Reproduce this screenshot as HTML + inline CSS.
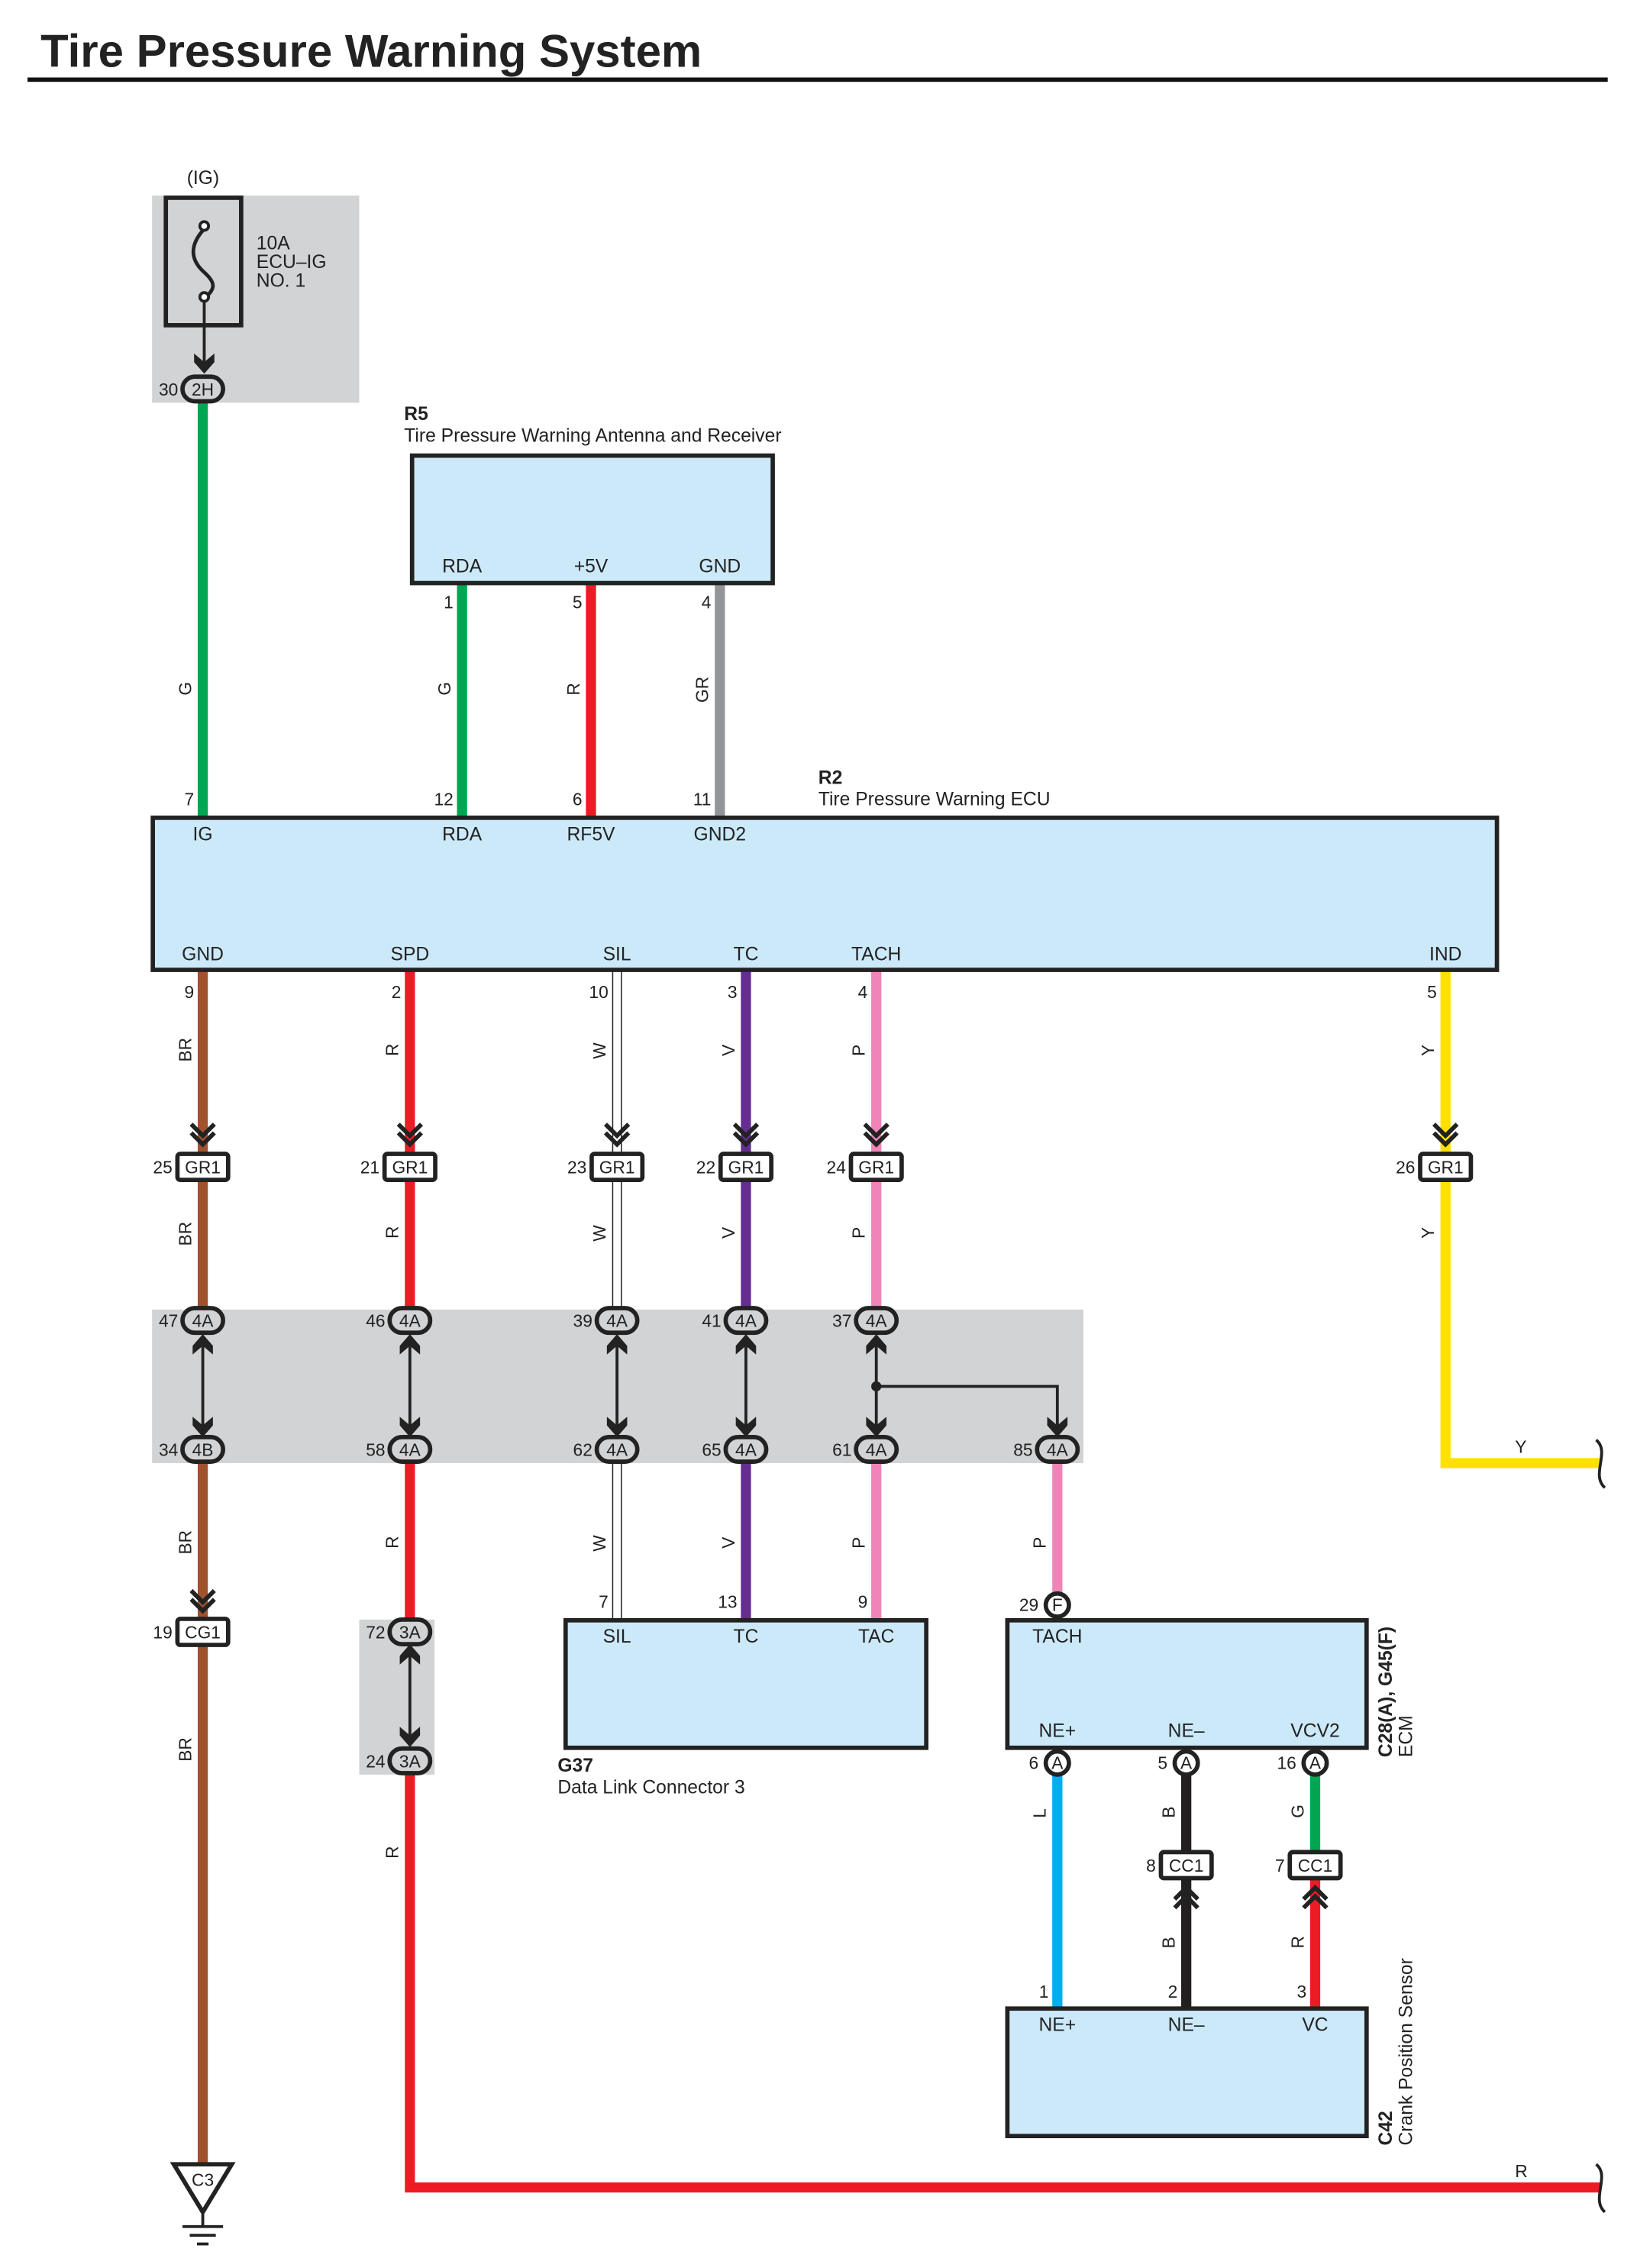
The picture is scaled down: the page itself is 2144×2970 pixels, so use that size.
<!DOCTYPE html>
<html><head><meta charset="utf-8"><style>
html,body{margin:0;padding:0;background:#fff}
svg{display:block}
text{font-family:"Liberation Sans",Arial,sans-serif;fill:#222}
.t{font-size:13px}
.n{font-size:12px}
.wl{font-size:12px}
.b{font-weight:bold}
</style></head><body>
<svg width="2144" height="2970" viewBox="0 0 1130.2 1565.6" preserveAspectRatio="none" xmlns="http://www.w3.org/2000/svg">
<defs>
<g id="dch"><polyline points="-8,-20 0,-12 8,-20" fill="none" stroke="#222" stroke-width="3"/><polyline points="-8,-14 0,-6 8,-14" fill="none" stroke="#222" stroke-width="3"/></g>
<g id="uch"><polyline points="-8,20 0,12 8,20" fill="none" stroke="#222" stroke-width="3"/><polyline points="-8,14 0,6 8,14" fill="none" stroke="#222" stroke-width="3"/></g>
<polygon id="ad" points="0,0 -7,-8 -7,-14 0,-8 7,-14 7,-8" fill="#222"/>
<polygon id="au" points="0,0 -7,8 -7,14 0,8 7,14 7,8" fill="#222"/>
</defs>
<rect width="1130.2" height="1565.6" fill="#fff"/>
<text x="28" y="46" font-size="31.6" style="font-weight:bold">Tire Pressure Warning System</text>
<rect x="19" y="53.5" width="1091" height="3" fill="#111"/>

<rect x="105" y="135" width="143" height="143" fill="#d1d3d4"/>
<rect x="105" y="904" width="643" height="106" fill="#d1d3d4"/>
<rect x="248" y="1118" width="52" height="107" fill="#d1d3d4"/>

<text x="129" y="127" class="t">(IG)</text>
<rect x="114.5" y="136.5" width="52" height="88" fill="none" stroke="#222" stroke-width="3"/>
<path d="M141,158 C130,170 132,180 141,188 C150,196 148,200 141,206" fill="none" stroke="#222" stroke-width="2.5"/>
<circle cx="141" cy="156" r="3" fill="#fff" stroke="#222" stroke-width="2"/>
<circle cx="141" cy="205" r="3" fill="#fff" stroke="#222" stroke-width="2"/>
<line x1="141" y1="208" x2="141" y2="255" stroke="#222" stroke-width="2"/>
<use href="#ad" x="141" y="258"/>
<text x="177" y="172" class="t">10A</text><text x="177" y="185" class="t">ECU–IG</text><text x="177" y="198" class="t">NO. 1</text>

<g stroke-width="7" fill="none">
<line x1="140" y1="278" x2="140" y2="564" stroke="#00a651"/>
<line x1="319" y1="403" x2="319" y2="564" stroke="#00a651"/>
<line x1="408" y1="403" x2="408" y2="564" stroke="#ed1c24"/>
<line x1="497" y1="403" x2="497" y2="564" stroke="#939598"/>
<line x1="140" y1="670" x2="140" y2="904" stroke="#a0522d"/>
<line x1="140" y1="1010" x2="140" y2="1493" stroke="#a0522d"/>
<line x1="283" y1="670" x2="283" y2="904" stroke="#ed1c24"/>
<polyline points="283,1010 283,1118" stroke="#ed1c24"/>
<polyline points="283,1225 283,1510 1105,1510" stroke="#ed1c24"/>
<line x1="515" y1="670" x2="515" y2="904" stroke="#662d91"/>
<line x1="515" y1="1010" x2="515" y2="1118" stroke="#662d91"/>
<line x1="605" y1="670" x2="605" y2="904" stroke="#f084b8"/>
<line x1="605" y1="1010" x2="605" y2="1118" stroke="#f084b8"/>
<line x1="730" y1="1010" x2="730" y2="1100" stroke="#f084b8"/>
<polyline points="998,670 998,1010 1105,1010" stroke="#ffe000"/>
<line x1="730" y1="1225" x2="730" y2="1386" stroke="#00aeef"/>
<line x1="819" y1="1225" x2="819" y2="1386" stroke="#231f20"/>
<line x1="908" y1="1225" x2="908" y2="1287" stroke="#00a651"/>
<line x1="908" y1="1287" x2="908" y2="1386" stroke="#ed1c24"/>
</g>
<g fill="#fff" stroke="#222" stroke-width="0.8">
<rect x="423" y="670" width="6" height="234"/>
<rect x="423" y="1010" width="6" height="108"/>
</g>
<path d="M1102,994 C1112,1002 1098,1018 1108,1027" fill="none" stroke="#222" stroke-width="2"/>
<path d="M1102,1494 C1112,1502 1098,1518 1108,1527" fill="none" stroke="#222" stroke-width="2"/>
<text x="1046" y="1003" class="n">Y</text>
<text x="1046" y="1503" class="n">R</text>

<text x="279" y="290" class="t" style="font-weight:bold">R5</text>
<text x="279" y="305" class="t">Tire Pressure Warning Antenna and Receiver</text>
<rect x="284.5" y="314.5" width="249" height="88" fill="#cce9f9" stroke="#222" stroke-width="3"/>
<text x="319" y="395" class="t" text-anchor="middle">RDA</text>
<text x="408" y="395" class="t" text-anchor="middle">+5V</text>
<text x="497" y="395" class="t" text-anchor="middle">GND</text>
<text x="313" y="420" class="n" text-anchor="end">1</text>
<text x="402" y="420" class="n" text-anchor="end">5</text>
<text x="491" y="420" class="n" text-anchor="end">4</text>

<text x="565" y="541" class="t" style="font-weight:bold">R2</text>
<text x="565" y="556" class="t">Tire Pressure Warning ECU</text>
<rect x="105.5" y="564.5" width="928" height="105" fill="#cce9f9" stroke="#222" stroke-width="3"/>
<g class="t" text-anchor="middle">
<text x="140" y="580">IG</text><text x="319" y="580">RDA</text><text x="408" y="580">RF5V</text><text x="497" y="580">GND2</text>
<text x="140" y="663">GND</text><text x="283" y="663">SPD</text><text x="426" y="663">SIL</text><text x="515" y="663">TC</text><text x="605" y="663">TACH</text><text x="998" y="663">IND</text>
</g>
<g class="n" text-anchor="end">
<text x="134" y="556">7</text><text x="313" y="556">12</text><text x="402" y="556">6</text><text x="491" y="556">11</text>
<text x="134" y="689">9</text><text x="277" y="689">2</text><text x="420" y="689">10</text><text x="509" y="689">3</text><text x="599" y="689">4</text><text x="992" y="689">5</text>
</g>

<g class="wl">
<text transform="translate(132,480) rotate(-90)">G</text>
<text transform="translate(311,480) rotate(-90)">G</text>
<text transform="translate(400,480) rotate(-90)">R</text>
<text transform="translate(489,485) rotate(-90)">GR</text>
<text transform="translate(132,733) rotate(-90)">BR</text>
<text transform="translate(275,729) rotate(-90)">R</text>
<text transform="translate(418,731) rotate(-90)">W</text>
<text transform="translate(507,729) rotate(-90)">V</text>
<text transform="translate(597,729) rotate(-90)">P</text>
<text transform="translate(990,729) rotate(-90)">Y</text>
<text transform="translate(132,860) rotate(-90)">BR</text>
<text transform="translate(275,855) rotate(-90)">R</text>
<text transform="translate(418,857) rotate(-90)">W</text>
<text transform="translate(507,855) rotate(-90)">V</text>
<text transform="translate(597,855) rotate(-90)">P</text>
<text transform="translate(990,855) rotate(-90)">Y</text>
<text transform="translate(132,1073) rotate(-90)">BR</text>
<text transform="translate(275,1069) rotate(-90)">R</text>
<text transform="translate(418,1071) rotate(-90)">W</text>
<text transform="translate(507,1069) rotate(-90)">V</text>
<text transform="translate(597,1069) rotate(-90)">P</text>
<text transform="translate(722,1069) rotate(-90)">P</text>
<text transform="translate(132,1216) rotate(-90)">BR</text>
<text transform="translate(275,1283) rotate(-90)">R</text>
<text transform="translate(722,1255) rotate(-90)">L</text>
<text transform="translate(811,1255) rotate(-90)">B</text>
<text transform="translate(900,1255) rotate(-90)">G</text>
<text transform="translate(811,1345) rotate(-90)">B</text>
<text transform="translate(900,1345) rotate(-90)">R</text>
</g>

<g>
<use href="#dch" x="140" y="796"/><use href="#dch" x="283" y="796"/><use href="#dch" x="426" y="796"/><use href="#dch" x="515" y="796"/><use href="#dch" x="605" y="796"/><use href="#dch" x="998" y="796"/>
<use href="#dch" x="140" y="1118"/>
</g>
<g fill="#fff" stroke="#222" stroke-width="3">
<rect x="122.5" y="796.5" width="35" height="18" rx="2"/>
<rect x="265.5" y="796.5" width="35" height="18" rx="2"/>
<rect x="408.5" y="796.5" width="35" height="18" rx="2"/>
<rect x="497.5" y="796.5" width="35" height="18" rx="2"/>
<rect x="587.5" y="796.5" width="35" height="18" rx="2"/>
<rect x="980.5" y="796.5" width="35" height="18" rx="2"/>
<rect x="122.5" y="1117.5" width="35" height="18" rx="2"/>
<rect x="801.5" y="1278.5" width="35" height="18" rx="2"/>
<rect x="890.5" y="1278.5" width="35" height="18" rx="2"/>
</g>
<use href="#uch" x="819" y="1297"/><use href="#uch" x="908" y="1297"/>
<g class="n" text-anchor="middle">
<text x="140" y="810">GR1</text><text x="283" y="810">GR1</text><text x="426" y="810">GR1</text><text x="515" y="810">GR1</text><text x="605" y="810">GR1</text><text x="998" y="810">GR1</text>
<text x="140" y="1131">CG1</text><text x="819" y="1292">CC1</text><text x="908" y="1292">CC1</text>
</g>
<g class="n" text-anchor="end">
<text x="119" y="810">25</text><text x="262" y="810">21</text><text x="405" y="810">23</text><text x="494" y="810">22</text><text x="584" y="810">24</text><text x="977" y="810">26</text>
<text x="119" y="1131">19</text><text x="798" y="1292">8</text><text x="887" y="1292">7</text>
</g>

<g stroke="#222" stroke-width="2">
<line x1="140" y1="922" x2="140" y2="990"/><line x1="283" y1="922" x2="283" y2="990"/><line x1="426" y1="922" x2="426" y2="990"/><line x1="515" y1="922" x2="515" y2="990"/><line x1="605" y1="922" x2="605" y2="990"/>
<polyline points="605,957 730,957 730,990" fill="none"/>
<line x1="283" y1="1135" x2="283" y2="1205"/>
</g>
<circle cx="605" cy="957" r="3.5" fill="#222"/>
<g>
<use href="#au" x="140" y="921"/><use href="#au" x="283" y="921"/><use href="#au" x="426" y="921"/><use href="#au" x="515" y="921"/><use href="#au" x="605" y="921"/>
<use href="#ad" x="140" y="992"/><use href="#ad" x="283" y="992"/><use href="#ad" x="426" y="992"/><use href="#ad" x="515" y="992"/><use href="#ad" x="605" y="992"/><use href="#ad" x="730" y="992"/>
<use href="#au" x="283" y="1135"/><use href="#ad" x="283" y="1206"/>
</g>
<g fill="#d1d3d4" stroke="#222" stroke-width="3">
<rect x="126" y="260" width="28" height="17" rx="8.5"/>
<rect x="126" y="903" width="28" height="17" rx="8.5"/><rect x="269" y="903" width="28" height="17" rx="8.5"/><rect x="412" y="903" width="28" height="17" rx="8.5"/><rect x="501" y="903" width="28" height="17" rx="8.5"/><rect x="591" y="903" width="28" height="17" rx="8.5"/>
<rect x="126" y="992" width="28" height="17" rx="8.5"/><rect x="269" y="992" width="28" height="17" rx="8.5"/><rect x="412" y="992" width="28" height="17" rx="8.5"/><rect x="501" y="992" width="28" height="17" rx="8.5"/><rect x="591" y="992" width="28" height="17" rx="8.5"/><rect x="716" y="992" width="28" height="17" rx="8.5"/>
<rect x="269" y="1118" width="28" height="17" rx="8.5"/><rect x="269" y="1207" width="28" height="17" rx="8.5"/>
</g>
<g class="n" text-anchor="middle">
<text x="140" y="273">2H</text>
<text x="140" y="916">4A</text><text x="283" y="916">4A</text><text x="426" y="916">4A</text><text x="515" y="916">4A</text><text x="605" y="916">4A</text>
<text x="140" y="1005">4B</text><text x="283" y="1005">4A</text><text x="426" y="1005">4A</text><text x="515" y="1005">4A</text><text x="605" y="1005">4A</text><text x="730" y="1005">4A</text>
<text x="283" y="1131">3A</text><text x="283" y="1220">3A</text>
</g>
<g class="n" text-anchor="end">
<text x="123" y="273">30</text>
<text x="123" y="916">47</text><text x="266" y="916">46</text><text x="409" y="916">39</text><text x="498" y="916">41</text><text x="588" y="916">37</text>
<text x="123" y="1005">34</text><text x="266" y="1005">58</text><text x="409" y="1005">62</text><text x="498" y="1005">65</text><text x="588" y="1005">61</text><text x="713" y="1005">85</text>
<text x="266" y="1131">72</text><text x="266" y="1220">24</text>
</g>

<rect x="390.5" y="1118.5" width="249" height="88" fill="#cce9f9" stroke="#222" stroke-width="3"/>
<g class="t" text-anchor="middle"><text x="426" y="1134">SIL</text><text x="515" y="1134">TC</text><text x="605" y="1134">TAC</text></g>
<g class="n" text-anchor="end"><text x="420" y="1110">7</text><text x="509" y="1110">13</text><text x="599" y="1110">9</text></g>
<text x="385" y="1223" class="t" style="font-weight:bold">G37</text>
<text x="385" y="1238" class="t">Data Link Connector 3</text>

<rect x="695.5" y="1118.5" width="248" height="88" fill="#cce9f9" stroke="#222" stroke-width="3"/>
<circle cx="730" cy="1108" r="8" fill="#fff" stroke="#222" stroke-width="3"/>
<text x="730" y="1112" class="n" text-anchor="middle">F</text>
<text x="717" y="1112" class="n" text-anchor="end">29</text>
<g class="t" text-anchor="middle"><text x="730" y="1134">TACH</text><text x="730" y="1199">NE+</text><text x="819" y="1199">NE–</text><text x="908" y="1199">VCV2</text></g>
<g fill="#fff" stroke="#222" stroke-width="3"><circle cx="730" cy="1217" r="8"/><circle cx="819" cy="1217" r="8"/><circle cx="908" cy="1217" r="8"/></g>
<g class="n" text-anchor="middle"><text x="730" y="1221">A</text><text x="819" y="1221">A</text><text x="908" y="1221">A</text></g>
<g class="n" text-anchor="end"><text x="717" y="1221">6</text><text x="806" y="1221">5</text><text x="895" y="1221">16</text></g>
<text transform="translate(961,1213) rotate(-90)" class="t" style="font-weight:bold">C28(A), G45(F)</text>
<text transform="translate(975,1213) rotate(-90)" class="t">ECM</text>

<rect x="695.5" y="1386.5" width="248" height="88" fill="#cce9f9" stroke="#222" stroke-width="3"/>
<g class="t" text-anchor="middle"><text x="730" y="1402">NE+</text><text x="819" y="1402">NE–</text><text x="908" y="1402">VC</text></g>
<g class="n" text-anchor="end"><text x="724" y="1379">1</text><text x="813" y="1379">2</text><text x="902" y="1379">3</text></g>
<text transform="translate(961,1481) rotate(-90)" class="t" style="font-weight:bold">C42</text>
<text transform="translate(975,1481) rotate(-90)" class="t">Crank Position Sensor</text>

<polygon points="120,1494 160,1494 140,1527" fill="#fff" stroke="#222" stroke-width="3"/>
<text x="140" y="1509" class="n" text-anchor="middle">C3</text>
<line x1="140" y1="1527" x2="140" y2="1537" stroke="#222" stroke-width="2"/>
<line x1="126" y1="1537" x2="154" y2="1537" stroke="#222" stroke-width="2"/>
<line x1="131" y1="1543" x2="149" y2="1543" stroke="#222" stroke-width="2"/>
<line x1="136" y1="1549" x2="144" y2="1549" stroke="#222" stroke-width="2"/>
</svg>
</body></html>
